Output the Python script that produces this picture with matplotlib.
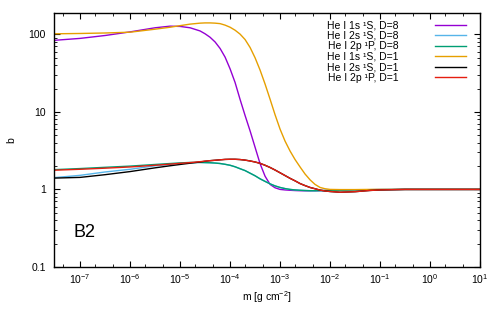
import numpy as np
import matplotlib
matplotlib.use("Agg")
import matplotlib.pyplot as plt
from matplotlib.ticker import LogLocator, FixedLocator, FixedFormatter, NullFormatter

plt.rcParams['font.family'] = ['Liberation Sans', 'DejaVu Sans']
plt.rcParams['mathtext.fontset'] = 'custom'
plt.rcParams['mathtext.rm'] = 'Liberation Sans'
plt.rcParams['mathtext.it'] = 'Liberation Sans:italic'
plt.rcParams['mathtext.bf'] = 'Liberation Sans:bold'

# column mass grid (log10 of m in g cm^-2)
log_m = [-7.52, -7.0, -6.5, -6.0, -5.5, -5.2, -5.0, -4.8, -4.6, -4.5, -4.4, -4.3,
         -4.2, -4.1, -4.0, -3.9, -3.8, -3.7, -3.6, -3.5, -3.4, -3.3, -3.2, -3.1,
         -3.0, -2.9, -2.8, -2.7, -2.6, -2.5, -2.4, -2.3, -2.2, -2.1, -2.0, -1.8,
         -1.5, -1.2, -1.0, -0.5, 0.0, 1.0]

b_1s_d8 = [84, 89, 97, 108, 122, 128, 127, 122, 111, 102, 92, 80,
           66, 51, 36, 24, 14.5, 9.0, 5.7, 3.5, 2.15, 1.48, 1.16, 1.05,
           1.0, 0.985, 0.975, 0.967, 0.962, 0.96, 0.96, 0.962, 0.965, 0.968, 0.972, 0.978,
           0.986, 0.992, 0.995, 1.0, 1.0, 1.0]
b_2s_d8 = [1.42, 1.52, 1.68, 1.82, 2.02, 2.1, 2.16, 2.21, 2.23, 2.22, 2.21, 2.19,
           2.16, 2.11, 2.05, 1.96, 1.85, 1.75, 1.62, 1.5, 1.37, 1.27, 1.18, 1.11,
           1.06, 1.025, 1.0, 0.985, 0.975, 0.968, 0.963, 0.962, 0.965, 0.968, 0.972, 0.978,
           0.986, 0.992, 0.995, 1.0, 1.0, 1.0]
b_2p_d8 = [1.8, 1.86, 1.93, 2.0, 2.1, 2.16, 2.2, 2.23, 2.23, 2.22, 2.21, 2.19,
           2.16, 2.11, 2.05, 1.96, 1.85, 1.75, 1.62, 1.5, 1.37, 1.27, 1.18, 1.11,
           1.06, 1.025, 1.0, 0.985, 0.975, 0.968, 0.963, 0.962, 0.965, 0.968, 0.972, 0.978,
           0.986, 0.992, 0.995, 1.0, 1.0, 1.0]
b_1s_d1 = [102, 103, 104.5, 107, 117, 124, 130, 136, 140, 141, 141, 140,
           138, 132, 124, 113.5, 101, 86, 68, 50, 34.7, 22.9, 14.6, 9.2,
           6.0, 4.2, 3.13, 2.43, 1.95, 1.58, 1.33, 1.16, 1.06, 1.02, 1.0, 0.995,
           0.995, 1.0, 1.0, 1.0, 1.0, 1.0]
b_2s_d1 = [1.4, 1.43, 1.55, 1.7, 1.9, 2.02, 2.1, 2.18, 2.26, 2.31, 2.35, 2.38,
           2.41, 2.44, 2.45, 2.45, 2.43, 2.39, 2.33, 2.26, 2.17, 2.05, 1.92, 1.78,
           1.64, 1.51, 1.39, 1.29, 1.19, 1.12, 1.06, 1.02, 0.98, 0.955, 0.94, 0.92,
           0.935, 0.97, 0.985, 1.0, 1.0, 1.0]
b_2p_d1 = [1.77, 1.82, 1.88, 1.95, 2.05, 2.12, 2.17, 2.22, 2.28, 2.32, 2.35, 2.38,
           2.41, 2.44, 2.45, 2.45, 2.43, 2.39, 2.33, 2.26, 2.17, 2.05, 1.92, 1.78,
           1.64, 1.51, 1.39, 1.29, 1.19, 1.12, 1.06, 1.02, 0.98, 0.955, 0.94, 0.92,
           0.935, 0.97, 0.985, 1.0, 1.0, 1.0]

labels = ['He I 1s \u00b9S, D=8', 'He I 2s \u00b9S, D=8', 'He I 2p \u00b9P, D=8',
          'He I 1s \u00b9S, D=1', 'He I 2s \u00b9S, D=1', 'He I 2p \u00b9P, D=1']
colors = ['#9400d3', '#56b4e9', '#009e73', '#e69f00', '#000000', '#e51e10']

m = 10.0 ** np.array(log_m)
series = [b_1s_d8, b_2s_d8, b_2p_d8, b_1s_d1, b_2s_d1, b_2p_d1]

fig = plt.figure(figsize=(5.0, 3.14), dpi=100)
ax = fig.add_axes([0.108, 0.150, 0.852, 0.809])

for b, lab, c in zip(series, labels, colors):
    ax.plot(m, b, color=c, lw=1.0, label=lab)

ax.set_xscale('log')
ax.set_yscale('log')
ax.set_xlim(3e-8, 10)
ax.set_ylim(0.1, 190)

ax.xaxis.set_major_locator(FixedLocator([10.0 ** k for k in range(-7, 2)]))
ax.xaxis.set_minor_locator(LogLocator(base=10, subs=(2.0, 4.6), numticks=30))
ax.xaxis.set_minor_formatter(NullFormatter())
ax.yaxis.set_major_locator(FixedLocator([0.1, 1, 10, 100]))
ax.yaxis.set_major_formatter(FixedFormatter(['0.1', '1', '10', '100']))
ax.yaxis.set_minor_locator(LogLocator(base=10, subs=np.arange(2, 10), numticks=30))
ax.yaxis.set_minor_formatter(NullFormatter())

ax.tick_params(which='both', direction='in', top=True, right=True, labelsize=7.5)
ax.tick_params(which='major', length=4, width=0.8)
ax.tick_params(which='minor', length=2, width=0.6)
ax.tick_params(axis='y', pad=6)
ax.tick_params(axis='x', pad=4)
for s in ax.spines.values():
    s.set_linewidth(1.0)

ax.set_xlabel('m [g cm$^{-2}$]', fontsize=7.5, labelpad=2)
ax.set_ylabel('b', fontsize=7.5, labelpad=9)

ax.text(0.045, 0.118, 'B2', transform=ax.transAxes, fontsize=13)

ax.legend(loc='upper right', frameon=False, fontsize=7.5, markerfirst=False,
          handlelength=3.0, handletextpad=3.5, labelspacing=0.05,
          borderaxespad=0.3, bbox_to_anchor=(0.985, 1.0))

fig.savefig('out.png', dpi=100)
